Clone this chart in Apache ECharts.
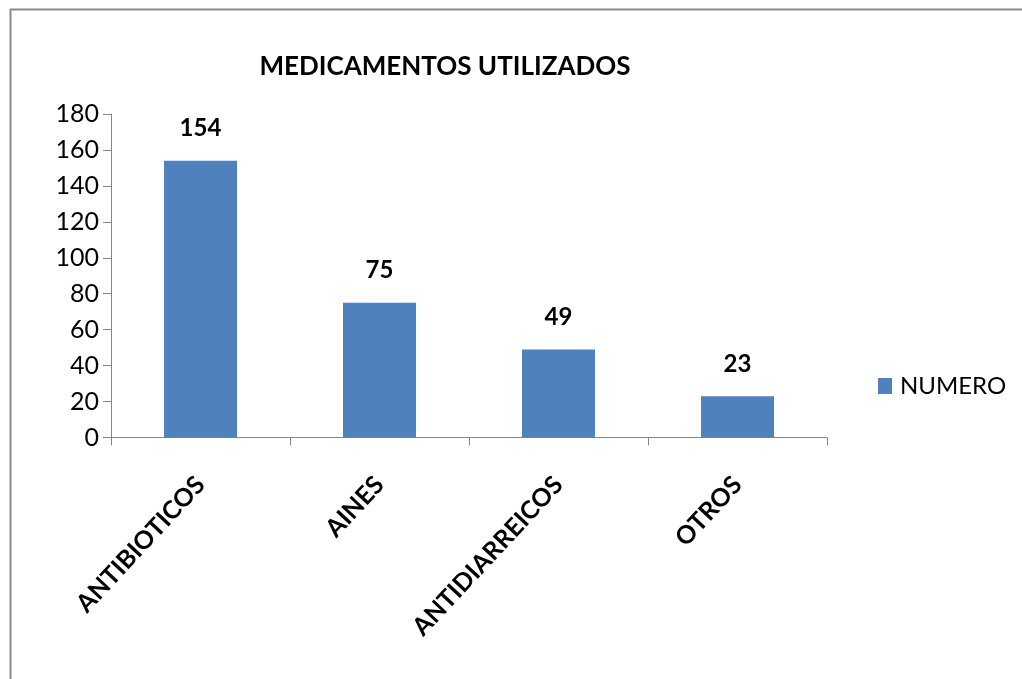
<!DOCTYPE html>
<html>
<head>
<meta charset="utf-8">
<script src="https://cdn.jsdelivr.net/npm/echarts@6/dist/echarts.min.js"></script>
<style>html,body{margin:0;padding:0;background:#fff;}#c{width:1022px;height:679px;}</style>
</head>
<body>
<div id="c"></div>
<script>
const categories = ["ANTIBIOTICOS", "AINES", "ANTIDIARREICOS", "OTROS"];
const numero = [154, 75, 49, 23];
const seriesName = "NUMERO";
const titleText = "MEDICAMENTOS UTILIZADOS";

const FONT = "Lato";
const chart = echarts.init(document.getElementById('c'));
chart.setOption({
  backgroundColor: '#fff',
  animation: false,
  textStyle: { fontFamily: FONT },
  graphic: [
    { type: 'line', shape: { x1: 10, y1: 9.5, x2: 1022, y2: 9.5 },
      style: { stroke: '#8a8a8a', lineWidth: 2 }, silent: true },
    { type: 'line', shape: { x1: 10.5, y1: 9, x2: 10.5, y2: 679 },
      style: { stroke: '#8a8a8a', lineWidth: 2 }, silent: true }
  ],
  title: {
    text: titleText, left: 440, top: 49, textAlign: 'center',
    textStyle: { fontFamily: FONT, fontSize: 26, fontWeight: 'bold', color: '#000' }
  },
  legend: {
    data: [seriesName], left: 873, top: 369, orient: 'vertical',
    icon: 'rect', itemWidth: 14, itemHeight: 16,
    textStyle: { fontFamily: FONT, fontSize: 24, color: '#000', padding: [0, 0, 0, 3] }
  },
  grid: { left: 111, right: 195, top: 114, bottom: 241.5, containLabel: false },
  xAxis: {
    type: 'category', data: categories,
    axisLine: { lineStyle: { color: '#868686', width: 1 } },
    axisTick: { show: true, length: 8, lineStyle: { color: '#868686' } },
    axisLabel: {
      rotate: 47, interval: 0, margin: 43, color: '#000',
      fontFamily: FONT, fontSize: 25, fontWeight: 'bold'
    }
  },
  yAxis: {
    type: 'value', min: 0, max: 180, interval: 20,
    axisLine: { show: true, lineStyle: { color: '#868686', width: 1 } },
    axisTick: { show: true, length: 8, lineStyle: { color: '#868686' } },
    splitLine: { show: false },
    axisLabel: { margin: 12, color: '#000', fontFamily: FONT, fontSize: 25 }
  },
  series: [{
    name: seriesName, type: 'bar', data: numero, barWidth: 73,
    itemStyle: { color: '#4F81BD' },
    label: {
      show: true, position: 'top', distance: 20, color: '#000',
      fontFamily: FONT, fontSize: 24, fontWeight: 'bold'
    }
  }]
});
</script>
</body>
</html>
